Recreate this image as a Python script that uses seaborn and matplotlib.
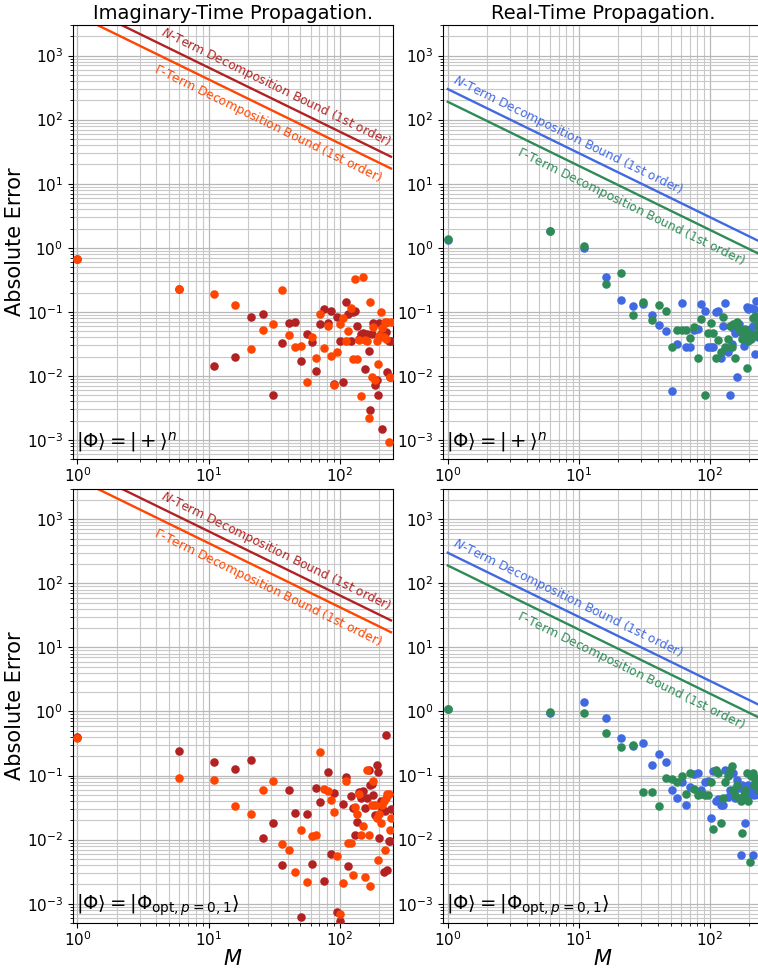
import numpy as np
import pandas as pd
import matplotlib
matplotlib.use("Agg")
import matplotlib.pyplot as plt
import seaborn as sns

# ---------------- data ----------------
M = [1, 6, 11, 16, 21, 26, 31, 36, 41, 46, 51, 56, 61, 66, 71, 76, 81, 86, 91, 96,
     101, 106, 111, 116, 121, 126, 131, 136, 141, 146, 151, 156, 161, 166, 171, 176,
     181, 186, 191, 196, 201, 206, 211, 216, 221, 226, 231, 236, 241, 246]

# Imaginary-time, |+>^n
imag_plus_N = [0.67, 0.226, 0.0143, 0.020, 0.083, 0.093, 0.005, 0.033, 0.0665, 0.0706,
               0.0171, 0.0448, 0.0336, 0.0121, 0.065, 0.110, 0.066, 0.103, 0.0075, 0.084,
               0.035, 0.0081, 0.145, 0.092, 0.035, 0.099, 0.104, 0.061, 0.038, 0.045,
               0.047, 0.013, 0.045, 0.0245, 0.0029, 0.045, 0.068, 0.0071, 0.0085, 0.005,
               0.068, 0.045, 0.0015, 0.040, 0.068, 0.048, 0.0115, 0.035, 0.0098, 0.035]
imag_plus_G = [0.67, 0.226, 0.191, 0.130, 0.0267, 0.052, 0.064, 0.223, 0.044, 0.0287,
               0.0295, 0.0081, 0.0411, 0.0193, 0.093, 0.027, 0.061, 0.0203, 0.0073, 0.0237,
               0.064, 0.079, 0.0356, 0.050, 0.114, 0.0185, 0.32, 0.0185, 0.037, 0.0049,
               0.356, 0.037, 0.035, 0.0022, 0.145, 0.0098, 0.059, 0.0087, 0.035, 0.0152,
               0.042, 0.099, 0.057, 0.040, 0.0706, 0.038, 0.0706, 0.00093, 0.0098, 0.07]

# Real-time, |+>^n
real_plus_N = [1.32, 1.8, 0.99, 0.348, 0.152, 0.124, 0.135, 0.089, 0.063, 0.051,
               0.0058, 0.032, 0.138, 0.028, 0.028, 0.052, 0.054, 0.133, 0.102, 0.028,
               0.028, 0.028, 0.099, 0.105, 0.019, 0.06, 0.14, 0.0237, 0.005, 0.031,
               0.057, 0.0465, 0.0095, 0.065, 0.05, 0.0465, 0.029, 0.036, 0.12, 0.11,
               0.055, 0.115, 0.06, 0.11, 0.022, 0.15, 0.04, 0.05, 0.04, 0.05]
real_plus_G = [1.37, 1.86, 1.07, 0.274, 0.40, 0.0887, 0.143, 0.075, 0.130, 0.102,
               0.028, 0.052, 0.052, 0.052, 0.039, 0.059, 0.019, 0.077, 0.0051, 0.0465,
               0.068, 0.046, 0.019, 0.036, 0.0235, 0.084, 0.028, 0.038, 0.06, 0.028,
               0.065, 0.019, 0.07, 0.055, 0.05, 0.038, 0.045, 0.055, 0.0133, 0.035,
               0.045, 0.038, 0.08, 0.042, 0.085, 0.045, 0.06, 0.07, 0.05, 0.06]

# Imaginary-time, |Phi_opt>
imag_opt_N = [0.40, 0.24, 0.16, 0.125, 0.173, 0.0105, 0.018, 0.004, 0.060, 0.0264,
              0.00062, 0.0248, 0.0041, 0.064, 0.038, 0.0023, 0.114, 0.0059, 0.053, 0.00074,
              0.00053, 0.0356, 0.096, 0.0039, 0.0475, 0.031, 0.012, 0.019, 0.055, 0.045,
              0.058, 0.031, 0.045, 0.123, 0.07, 0.075, 0.05, 0.024, 0.147, 0.115,
              0.0105, 0.04, 0.03, 0.0031, 0.028, 0.43, 0.0033, 0.0095, 0.0095, 0.03]
imag_opt_G = [0.387, 0.093, 0.0866, 0.034, 0.0255, 0.060, 0.0835, 0.0085, 0.007, 0.0031,
              0.014, 0.0022, 0.0114, 0.0118, 0.231, 0.061, 0.058, 0.042, 0.0274, 0.0055,
              0.00069, 0.0021, 0.083, 0.009, 0.009, 0.0028, 0.032, 0.025, 0.052, 0.012,
              0.0163, 0.0026, 0.12, 0.012, 0.0019, 0.035, 0.082, 0.035, 0.022, 0.0048,
              0.025, 0.018, 0.035, 0.04, 0.007, 0.045, 0.051, 0.051, 0.014, 0.022]

# Real-time, |Phi_opt>
real_opt_N = [1.08, 0.95, 1.41, 0.79, 0.387, 0.29, 0.328, 0.147, 0.22, 0.16,
              0.06, 0.045, 0.08, 0.035, 0.067, 0.105, 0.109, 0.06, 0.08, 0.082,
              0.022, 0.118, 0.04, 0.043, 0.035, 0.035, 0.122, 0.047, 0.06, 0.05,
              0.11, 0.045, 0.085, 0.065, 0.0058, 0.07, 0.06, 0.018, 0.055, 0.07,
              0.05, 0.06, 0.0058, 0.05, 0.08, 0.06, 0.07, 0.05, 0.05, 0.06]
real_opt_G = [1.10, 0.985, 0.96, 0.47, 0.284, 0.297, 0.055, 0.055, 0.033, 0.093,
              0.087, 0.08, 0.1, 0.051, 0.109, 0.062, 0.049, 0.051, 0.05, 0.05,
              0.079, 0.0146, 0.12, 0.11, 0.018, 0.045, 0.08, 0.1, 0.12, 0.14,
              0.06, 0.05, 0.07, 0.045, 0.04, 0.0126, 0.05, 0.06, 0.11, 0.04,
              0.0045, 0.1, 0.11, 0.07, 0.09, 0.08, 0.07, 0.06, 0.06, 0.06]

# first-order bound coefficients (bound = C / M)
bound_imag_N, bound_imag_G = 6500.0, 4250.0
bound_real_N, bound_real_G = 300.0, 190.0

titles = ["Imaginary-Time Propagation.", "Real-Time Propagation."]
state_labels = [r"$|\Phi\rangle = |+\rangle^n$",
                r"$|\Phi\rangle = |\Phi_{\mathrm{opt},p=0,1}\rangle$"]
label_N = r"$N$-Term Decomposition Bound (1st order)"
label_G = r"$\Gamma$-Term Decomposition Bound (1st order)"

# ---------------- styling ----------------
col_imag = ("#B22222", "#FF4500")   # firebrick, orangered
col_real = ("#4169E1", "#2E8B57")   # royalblue, seagreen

fig = plt.figure(figsize=(7.58, 9.68), dpi=100)
W, H = 758.0, 968.0
ax_w = (393.0 - 72.7) / W
ax_h = 434.3 / H
lefts = [72.7 / W, 443.0 / W]
bottoms = [(H - 459.3) / H, (H - 923.0) / H]

panels = [
    (0, 0, imag_plus_N, imag_plus_G, bound_imag_N, bound_imag_G, col_imag, "imag"),
    (0, 1, real_plus_N, real_plus_G, bound_real_N, bound_real_G, col_real, "real"),
    (1, 0, imag_opt_N, imag_opt_G, bound_imag_N, bound_imag_G, col_imag, "imag"),
    (1, 1, real_opt_N, real_opt_G, bound_real_N, bound_real_G, col_real, "real"),
]

xlim = (0.92, 255)
ylim = (5e-4, 3e3)

for row, col, yN, yG, cN, cG, cols, kind in panels:
    ax = fig.add_axes([lefts[col], bottoms[row], ax_w, ax_h])
    ax.set_xscale("log")
    ax.set_yscale("log")
    ax.set_xlim(*xlim)
    ax.set_ylim(*ylim)
    ax.set_axisbelow(True)
    ax.grid(True, which="major", color="#b8b8b8", linewidth=0.9)
    ax.grid(True, which="minor", color="#c8c8c8", linewidth=0.8)

    df = pd.DataFrame({"M": M, "N": yN, "G": yG})
    Marr = np.array(M, dtype=float)
    sns.lineplot(x=Marr, y=cN / Marr, color=cols[0], linewidth=1.7, ax=ax)
    sns.lineplot(x=Marr, y=cG / Marr, color=cols[1], linewidth=1.7, ax=ax)
    sns.scatterplot(data=df, x="M", y="N", color=cols[0], s=38, linewidth=0, ax=ax, zorder=3)
    sns.scatterplot(data=df, x="M", y="G", color=cols[1], s=38, linewidth=0, ax=ax, zorder=3)

    # angle of the bound lines on screen
    p1 = ax.transData.transform((2.0, cN / 2.0))
    p2 = ax.transData.transform((200.0, cN / 200.0))
    ang = np.degrees(np.arctan2(p2[1] - p1[1], p2[0] - p1[0]))
    th = np.radians(ang)
    if kind == "imag":
        mN, mG = 4.0, 4.3
    else:
        mN, mG = 1.02, 3.8
    offN, offG = 2.5, 4.0
    ax.annotate(label_N, xy=(mN, cN / mN), xytext=(-np.sin(th) * offN, np.cos(th) * offN),
                textcoords="offset points", rotation=ang, rotation_mode="anchor",
                ha="left", va="bottom", color=cols[0], fontsize=8.8)
    ax.annotate(label_G, xy=(mG, cG / mG), xytext=(np.sin(th) * offG, -np.cos(th) * offG),
                textcoords="offset points", rotation=ang, rotation_mode="anchor",
                ha="left", va="top", color=cols[1], fontsize=8.8)

    ax.text(0.01, 0.012, state_labels[row], transform=ax.transAxes,
            ha="left", va="bottom", fontsize=14)

    ax.tick_params(axis="both", which="major", labelsize=11)
    ax.tick_params(axis="x", which="major", pad=1.5)
    if col == 0:
        ax.set_ylabel("Absolute Error", fontsize=15, labelpad=1)
    else:
        ax.set_ylabel("")
    if row == 1:
        ax.set_xlabel("$M$", fontsize=15, labelpad=0)
    else:
        ax.set_xlabel("")
    if row == 0:
        ax.set_title(titles[col], fontsize=14, pad=4)

fig.savefig("out.png", dpi=100)
